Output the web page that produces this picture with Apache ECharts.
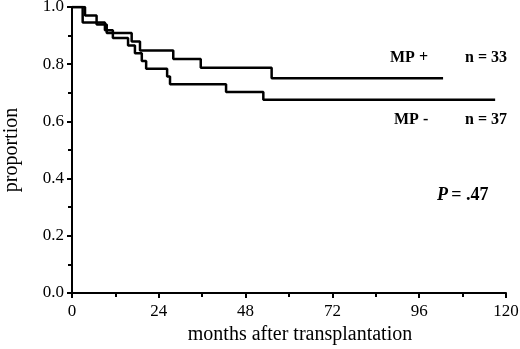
<!DOCTYPE html>
<html>
<head>
<meta charset="utf-8">
<script src="https://cdn.jsdelivr.net/npm/echarts@6/dist/echarts.min.js"></script>
<style>
  html, body { margin: 0; padding: 0; background: #fff; }
  #chart { width: 520px; height: 349px; }
</style>
</head>
<body>
<div id="chart"></div>
<script>
// Kaplan-Meier steps (months, proportion)
const mpPlusMonths = [0, 3.6, 6.8, 9.6, 16.5, 18.8, 28, 35.6, 55.2, 102.6];
const mpPlusSurv = [1, 0.970, 0.939, 0.909, 0.879, 0.848, 0.818, 0.788, 0.751, 0.751];
const mpMinusMonths = [0, 2.95, 9.1, 11.3, 15.5, 17.4, 19.3, 20.5, 26.3, 27.1, 42.6, 52.9, 117];
const mpMinusSurv = [1, 0.946, 0.919, 0.892, 0.865, 0.838, 0.811, 0.784, 0.757, 0.730, 0.703, 0.676, 0.676];

const FONT = "'Liberation Serif', 'Times New Roman', serif";

function pairs(xs, ys) {
    let out = [];
    for (let i = 0; i < xs.length; i++) out.push([xs[i], ys[i]]);
    return out;
}

let chart = echarts.init(document.getElementById('chart'));

let axisCommon = {
    axisLine: { show: true, lineStyle: { color: '#000', width: 2 } },
    axisTick: { show: true, length: 5, lineStyle: { color: '#000', width: 2 } },
    minorTick: { show: true, splitNumber: 2, length: 4, lineStyle: { color: '#000', width: 2 } },
    splitLine: { show: false },
    axisLabel: { color: '#000', fontFamily: FONT, fontSize: 17 },
    nameTextStyle: { color: '#000', fontFamily: FONT, fontSize: 20 }
};

let option = {
    animation: false,
    backgroundColor: '#fff',
    grid: { left: 72, right: 14, top: 7, bottom: 56, outerBoundsMode: 'none' },
    xAxis: Object.assign({}, axisCommon, {
        type: 'value',
        min: 0,
        max: 120,
        interval: 24,
        name: 'months after transplantation',
        nameLocation: 'middle',
        nameGap: 30,
        nameTextStyle: Object.assign({}, axisCommon.nameTextStyle, { padding: [0, 0, 0, 22] }),
        axisLabel: Object.assign({}, axisCommon.axisLabel, { margin: 10 })
    }),
    yAxis: Object.assign({}, axisCommon, {
        type: 'value',
        min: 0,
        max: 1,
        interval: 0.2,
        name: 'proportion',
        nameLocation: 'middle',
        nameGap: 50,
        nameRotate: 90,
        axisLabel: Object.assign({}, axisCommon.axisLabel, {
            margin: 8,
            formatter: v => v.toFixed(1)
        })
    }),
    series: [
        {
            name: 'MP +',
            type: 'line',
            step: 'end',
            showSymbol: false,
            lineStyle: { color: '#000', width: 2.5 },
            data: pairs(mpPlusMonths, mpPlusSurv)
        },
        {
            name: 'MP -',
            type: 'line',
            step: 'end',
            showSymbol: false,
            lineStyle: { color: '#000', width: 2.5 },
            data: pairs(mpMinusMonths, mpMinusSurv)
        }
    ],
    graphic: [
        { type: 'text', left: 390, top: 50, style: { text: 'MP +', font: 'bold 16px ' + FONT, fill: '#000' } },
        { type: 'text', left: 465, top: 50, style: { text: 'n = 33', font: 'bold 16px ' + FONT, fill: '#000' } },
        { type: 'text', left: 394, top: 112, style: { text: 'MP -', font: 'bold 16px ' + FONT, fill: '#000' } },
        { type: 'text', left: 465, top: 112, style: { text: 'n = 37', font: 'bold 16px ' + FONT, fill: '#000' } },
        {
            type: 'text', left: 437, top: 186,
            style: {
                text: '{p|P} {r|= .47}',
                rich: {
                    p: { fontFamily: FONT, fontSize: 18, fontWeight: 'bold', fontStyle: 'italic', fill: '#000' },
                    r: { fontFamily: FONT, fontSize: 18, fontWeight: 'bold', fill: '#000' }
                }
            }
        }
    ]
};

chart.setOption(option);
</script>
</body>
</html>
